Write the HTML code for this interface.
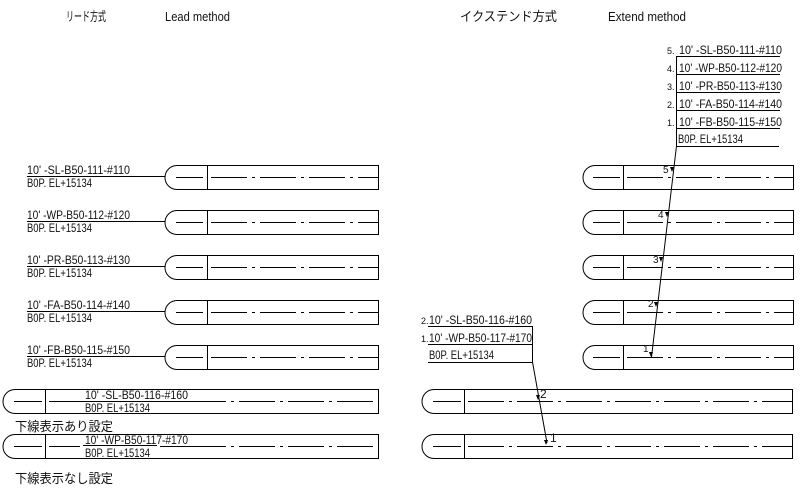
<!DOCTYPE html>
<html><head><meta charset="utf-8"><style>
html,body{margin:0;padding:0;background:#fff;}
svg{display:block;}
text{font-family:"Liberation Sans","Noto Sans CJK JP",sans-serif;fill:#111;}
.t{font-size:12px;}
.h{font-size:13px;}
.p{fill:none;stroke:#000;stroke-width:1;}
.c{stroke:#000;stroke-width:1;stroke-dasharray:36 5 3 5;}
.s{stroke:#000;stroke-width:1;}
</style></head><body>
<svg width="800" height="490" viewBox="0 0 800 490" xmlns="http://www.w3.org/2000/svg">
<text class="h" x="66" y="21" textLength="40" lengthAdjust="spacingAndGlyphs">リード方式</text>
<text class="h" x="165" y="21" textLength="65" lengthAdjust="spacingAndGlyphs">Lead method</text>
<text class="h" x="460" y="21" textLength="97" lengthAdjust="spacingAndGlyphs">イクステンド方式</text>
<text class="h" x="608" y="21" textLength="78" lengthAdjust="spacingAndGlyphs">Extend method</text>

<!-- Left short pipes -->
<g>
<path class="p" d="M378.5,165.5 H177 A12 12 0 0 0 177,189.5 H378.5 Z M207.5,165.5 V189.5"/>
<line class="s" x1="176" y1="177.5" x2="203" y2="177.5"/><line class="c" x1="211" y1="177.5" x2="378" y2="177.5"/>
<path class="p" d="M378.5,210.5 H177 A12 12 0 0 0 177,234.5 H378.5 Z M207.5,210.5 V234.5"/>
<line class="s" x1="176" y1="222.5" x2="203" y2="222.5"/><line class="c" x1="211" y1="222.5" x2="378" y2="222.5"/>
<path class="p" d="M378.5,255.5 H177 A12 12 0 0 0 177,279.5 H378.5 Z M207.5,255.5 V279.5"/>
<line class="s" x1="176" y1="267.5" x2="203" y2="267.5"/><line class="c" x1="211" y1="267.5" x2="378" y2="267.5"/>
<path class="p" d="M378.5,300.5 H177 A12 12 0 0 0 177,324.5 H378.5 Z M207.5,300.5 V324.5"/>
<line class="s" x1="176" y1="312.5" x2="203" y2="312.5"/><line class="c" x1="211" y1="312.5" x2="378" y2="312.5"/>
<path class="p" d="M378.5,345.5 H177 A12 12 0 0 0 177,369.5 H378.5 Z M207.5,345.5 V369.5"/>
<line class="s" x1="176" y1="357.5" x2="203" y2="357.5"/><line class="c" x1="211" y1="357.5" x2="378" y2="357.5"/>
</g>
<!-- left labels -->
<g class="t">
<text x="27" y="174" textLength="103" lengthAdjust="spacingAndGlyphs">10' -SL-B50-111-#110</text>
<line class="s" x1="27" y1="176.5" x2="165" y2="176.5"/>
<text x="27" y="187" textLength="65" lengthAdjust="spacingAndGlyphs">B0P. EL+15134</text>
<text x="27" y="219" textLength="103" lengthAdjust="spacingAndGlyphs">10' -WP-B50-112-#120</text>
<line class="s" x1="27" y1="221.5" x2="165" y2="221.5"/>
<text x="27" y="232" textLength="65" lengthAdjust="spacingAndGlyphs">B0P. EL+15134</text>
<text x="27" y="264" textLength="103" lengthAdjust="spacingAndGlyphs">10' -PR-B50-113-#130</text>
<line class="s" x1="27" y1="266.5" x2="165" y2="266.5"/>
<text x="27" y="277" textLength="65" lengthAdjust="spacingAndGlyphs">B0P. EL+15134</text>
<text x="27" y="309" textLength="103" lengthAdjust="spacingAndGlyphs">10' -FA-B50-114-#140</text>
<line class="s" x1="27" y1="311.5" x2="165" y2="311.5"/>
<text x="27" y="322" textLength="65" lengthAdjust="spacingAndGlyphs">B0P. EL+15134</text>
<text x="27" y="354" textLength="103" lengthAdjust="spacingAndGlyphs">10' -FB-B50-115-#150</text>
<line class="s" x1="27" y1="356.5" x2="165" y2="356.5"/>
<text x="27" y="367" textLength="65" lengthAdjust="spacingAndGlyphs">B0P. EL+15134</text>
</g>
<!-- left long pipes -->
<path class="p" d="M378.5,389.5 H15 A12 12 0 0 0 15,413.5 H378.5 Z M45.5,389.5 V413.5"/>
<line class="s" x1="14" y1="401.5" x2="42" y2="401.5"/><line class="c" x1="190" y1="401.5" x2="378" y2="401.5"/>
<line class="s" x1="49" y1="401.5" x2="190" y2="401.5"/>
<path class="p" d="M378.5,434.5 H15 A12 12 0 0 0 15,458.5 H378.5 Z M45.5,434.5 V458.5"/>
<line class="s" x1="14" y1="446.5" x2="42" y2="446.5"/><line class="c" x1="190" y1="446.5" x2="378" y2="446.5"/>
<line class="s" x1="49" y1="446.5" x2="80" y2="446.5"/><line class="s" x1="83" y1="445.5" x2="157" y2="445.5"/><line class="s" x1="160" y1="446.5" x2="190" y2="446.5"/>
<text class="t" x="85" y="399" textLength="103" lengthAdjust="spacingAndGlyphs">10' -SL-B50-116-#160</text>
<text class="t" x="85" y="412" textLength="65" lengthAdjust="spacingAndGlyphs">B0P. EL+15134</text>
<text class="t" x="85" y="444" textLength="103" lengthAdjust="spacingAndGlyphs">10' -WP-B50-117-#170</text>
<text class="t" x="85" y="457" textLength="65" lengthAdjust="spacingAndGlyphs">B0P. EL+15134</text>
<text class="h" x="15" y="431" textLength="98" lengthAdjust="spacingAndGlyphs">下線表示あり設定</text>
<text class="h" x="15" y="483" textLength="98" lengthAdjust="spacingAndGlyphs">下線表示なし設定</text>

<!-- Right short pipes -->
<g>
<path class="p" d="M793.5,165.5 H595 A12 12 0 0 0 595,189.5 H793.5 Z M623.5,165.5 V189.5"/>
<line class="s" x1="593" y1="177.5" x2="620" y2="177.5"/><line class="c" x1="627" y1="177.5" x2="793" y2="177.5"/>
<path class="p" d="M793.5,210.5 H595 A12 12 0 0 0 595,234.5 H793.5 Z M623.5,210.5 V234.5"/>
<line class="s" x1="593" y1="222.5" x2="620" y2="222.5"/><line class="c" x1="627" y1="222.5" x2="793" y2="222.5"/>
<path class="p" d="M793.5,255.5 H595 A12 12 0 0 0 595,279.5 H793.5 Z M623.5,255.5 V279.5"/>
<line class="s" x1="593" y1="267.5" x2="620" y2="267.5"/><line class="c" x1="627" y1="267.5" x2="793" y2="267.5"/>
<path class="p" d="M793.5,300.5 H595 A12 12 0 0 0 595,324.5 H793.5 Z M623.5,300.5 V324.5"/>
<line class="s" x1="593" y1="312.5" x2="620" y2="312.5"/><line class="c" x1="627" y1="312.5" x2="793" y2="312.5"/>
<path class="p" d="M793.5,345.5 H595 A12 12 0 0 0 595,369.5 H793.5 Z M623.5,345.5 V369.5"/>
<line class="s" x1="593" y1="357.5" x2="620" y2="357.5"/><line class="c" x1="627" y1="357.5" x2="793" y2="357.5"/>
</g>
<!-- right long pipes -->
<path class="p" d="M792.5,389.5 H434 A12 12 0 0 0 434,413.5 H792.5 Z M464.5,389.5 V413.5"/>
<line class="s" x1="433" y1="401.5" x2="461" y2="401.5"/><line class="c" x1="468" y1="401.5" x2="792" y2="401.5"/>
<path class="p" d="M792.5,434.5 H434 A12 12 0 0 0 434,458.5 H792.5 Z M464.5,434.5 V458.5"/>
<line class="s" x1="433" y1="446.5" x2="461" y2="446.5"/><line class="c" x1="468" y1="446.5" x2="792" y2="446.5"/>

<!-- extend labels top right -->
<g class="t">
<text x="667" y="54" font-size="9">5.</text><text x="679" y="54" textLength="103" lengthAdjust="spacingAndGlyphs">10' -SL-B50-111-#110</text>
<text x="667" y="72" font-size="9">4.</text><text x="679" y="72" textLength="103" lengthAdjust="spacingAndGlyphs">10' -WP-B50-112-#120</text>
<text x="667" y="90" font-size="9">3.</text><text x="679" y="90" textLength="103" lengthAdjust="spacingAndGlyphs">10' -PR-B50-113-#130</text>
<text x="667" y="108" font-size="9">2.</text><text x="679" y="108" textLength="103" lengthAdjust="spacingAndGlyphs">10' -FA-B50-114-#140</text>
<text x="667" y="126" font-size="9">1.</text><text x="679" y="126" textLength="103" lengthAdjust="spacingAndGlyphs">10' -FB-B50-115-#150</text>
<text x="678" y="143" textLength="65" lengthAdjust="spacingAndGlyphs">B0P. EL+15134</text>
</g>
<g class="s">
<line x1="676" y1="56.5" x2="780" y2="56.5"/><line x1="676" y1="74.5" x2="780" y2="74.5"/>
<line x1="676" y1="92.5" x2="780" y2="92.5"/><line x1="676" y1="110.5" x2="780" y2="110.5"/>
<line x1="676" y1="128.5" x2="780" y2="128.5"/><line x1="676" y1="146.5" x2="779" y2="146.5"/>
<line x1="676.5" y1="56" x2="676.5" y2="146"/>
<line x1="676.5" y1="146" x2="651.5" y2="357"/>
</g>
<g class="t">
<text x="663" y="173" font-size="10">5</text><text x="658" y="218" font-size="10">4</text>
<text x="653" y="263" font-size="10">3</text><text x="648" y="307" font-size="10">2</text>
<text x="643" y="352" font-size="10">1</text>
</g>
<g fill="#000">
<path d="M672,172 l-2,-5 l4,0 z"/><path d="M667,217 l-2,-5 l4,0 z"/>
<path d="M661,262 l-2,-5 l4,0 z"/><path d="M656,307 l-2,-5 l4,0 z"/>
<path d="M651,357 l-2,-5 l4,0 z"/>
</g>

<!-- extend labels lower -->
<g class="t">
<text x="421" y="324" font-size="9">2.</text><text x="429" y="324" textLength="103" lengthAdjust="spacingAndGlyphs">10' -SL-B50-116-#160</text>
<text x="421" y="342" font-size="9">1.</text><text x="429" y="342" textLength="103" lengthAdjust="spacingAndGlyphs">10' -WP-B50-117-#170</text>
<text x="429" y="359" textLength="65" lengthAdjust="spacingAndGlyphs">B0P. EL+15134</text>
</g>
<g class="s">
<line x1="428" y1="326.5" x2="532" y2="326.5"/><line x1="428" y1="344.5" x2="532" y2="344.5"/>
<line x1="428" y1="362.5" x2="532" y2="362.5"/>
<line x1="532.5" y1="326" x2="532.5" y2="362"/>
<line x1="532.5" y1="362" x2="547" y2="443"/>
</g>
<text class="t" x="540" y="398" font-size="10">2</text>
<text class="t" x="550" y="442" font-size="10">1</text>
<g fill="#000">
<path d="M538,400 l-2,-5 l4,0 z"/><path d="M546,445 l-2,-5 l4,0 z"/>
</g>
</svg>
</body></html>
